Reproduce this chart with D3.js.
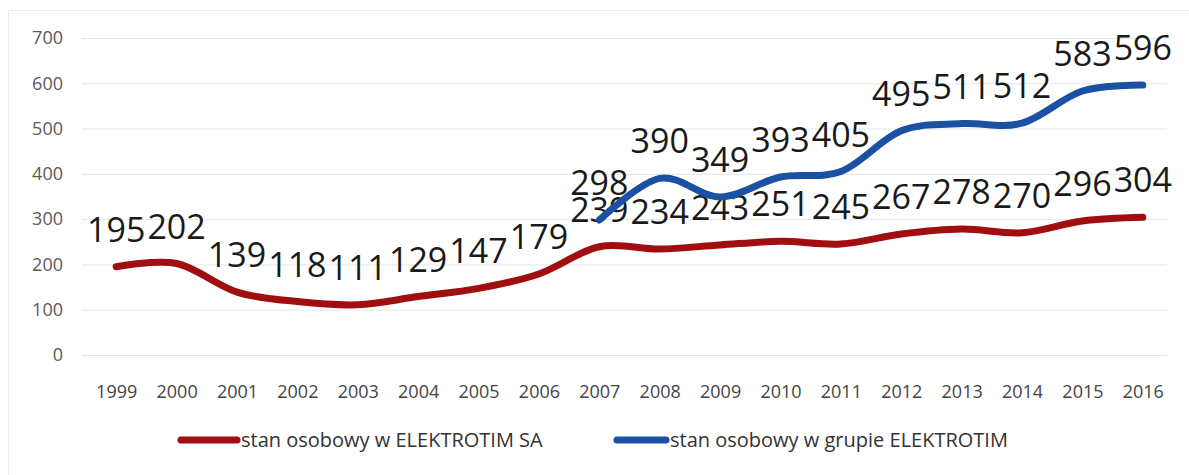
<!DOCTYPE html>
<html>
<head>
<meta charset="utf-8">
<script src="https://cdn.jsdelivr.net/npm/d3@7/dist/d3.min.js"></script>
<style>
  html, body { margin: 0; padding: 0; background: #ffffff; }
  svg { display: block; }
</style>
</head>
<body>
<script>
const years = ["1999","2000","2001","2002","2003","2004","2005","2006","2007","2008","2009","2010","2011","2012","2013","2014","2015","2016"];
const companyValues = [195,202,139,118,111,129,147,179,239,234,243,251,245,267,278,270,296,304];
const groupYears = ["2007","2008","2009","2010","2011","2012","2013","2014","2015","2016"];
const groupValues = [298,390,349,393,405,495,511,512,583,596];
const yTicks = [0,100,200,300,400,500,600,700];
const seriesNames = ["stan osobowy w ELEKTROTIM SA", "stan osobowy w grupie ELEKTROTIM"];
const seriesColors = ["#a00e10", "#1b51a3"];

const W = 1189, H = 475;
const svg = d3.select("body").append("svg").attr("width", W).attr("height", H);

// faint frame of chart area
svg.append("rect").attr("x", 8.5).attr("y", 10.5).attr("width", W).attr("height", H)
  .attr("fill", "none").attr("stroke", "#ececec");

const x = d3.scalePoint().domain(years).range([86, 1173]).padding(0.5);
const y = d3.scaleLinear().domain([0, 700]).range([355, 38]);

// gridlines
svg.append("g").selectAll("line").data(yTicks).join("line")
  .attr("x1", 82).attr("x2", 1167)
  .attr("y1", d => y(d) + 0.5).attr("y2", d => y(d) + 0.5)
  .attr("stroke", "#e3e6ec").attr("stroke-width", 1);

// y axis labels
const yAxis = d3.axisLeft(y).tickValues(yTicks).tickSize(0).tickPadding(0);
const gy = svg.append("g").attr("transform", "translate(63,0)").call(yAxis);
gy.select(".domain").remove();
gy.selectAll("text").attr("font-family", "Open Sans").attr("font-size", 18).attr("fill", "#5a5a5a");

// x axis labels
const xAxis = d3.axisBottom(x).tickSize(0).tickPadding(0);
const gx = svg.append("g").attr("transform", "translate(0,385)").call(xAxis);
gx.select(".domain").remove();
gx.selectAll("text").attr("font-family", "Open Sans").attr("font-size", 18).attr("fill", "#444");

const line = d3.line().x(d => x(d[0])).y(d => y(d[1])).curve(d3.curveCardinal.tension(0));

const compData = years.map((yr, i) => [yr, companyValues[i]]);
const groupData = groupYears.map((yr, i) => [yr, groupValues[i]]);

function drawLine(data, color) {
  svg.append("path").datum(data).attr("d", line)
    .attr("fill", "none").attr("stroke", color).attr("stroke-width", 7)
    .attr("stroke-linecap", "round").attr("stroke-linejoin", "round");
}
function drawLabels(data) {
  svg.append("g").selectAll("text").data(data).join("text")
    .attr("x", d => x(d[0])).attr("y", d => y(d[1]) - 25)
    .attr("text-anchor", "middle")
    .attr("font-family", "Open Sans").attr("font-size", 34)
    .attr("fill", "#1a1a1a")
    .text(d => d[1]);
}

drawLine(compData, seriesColors[0]);
drawLabels(compData);
drawLine(groupData, seriesColors[1]);
drawLabels(groupData);

// legend
const legend = [
  {name: seriesNames[0], color: seriesColors[0], x1: 181, x2: 237},
  {name: seriesNames[1], color: seriesColors[1], x1: 617, x2: 666}
];
const lg = svg.append("g");
legend.forEach(l => {
  lg.append("line").attr("x1", l.x1).attr("x2", l.x2).attr("y1", 440).attr("y2", 440)
    .attr("stroke", l.color).attr("stroke-width", 7).attr("stroke-linecap", "round");
  lg.append("text").attr("x", l.x2 + 4).attr("y", 447)
    .attr("font-family", "Open Sans").attr("font-size", 20).attr("fill", "#333")
    .text(l.name);
});
</script>
</body>
</html>
